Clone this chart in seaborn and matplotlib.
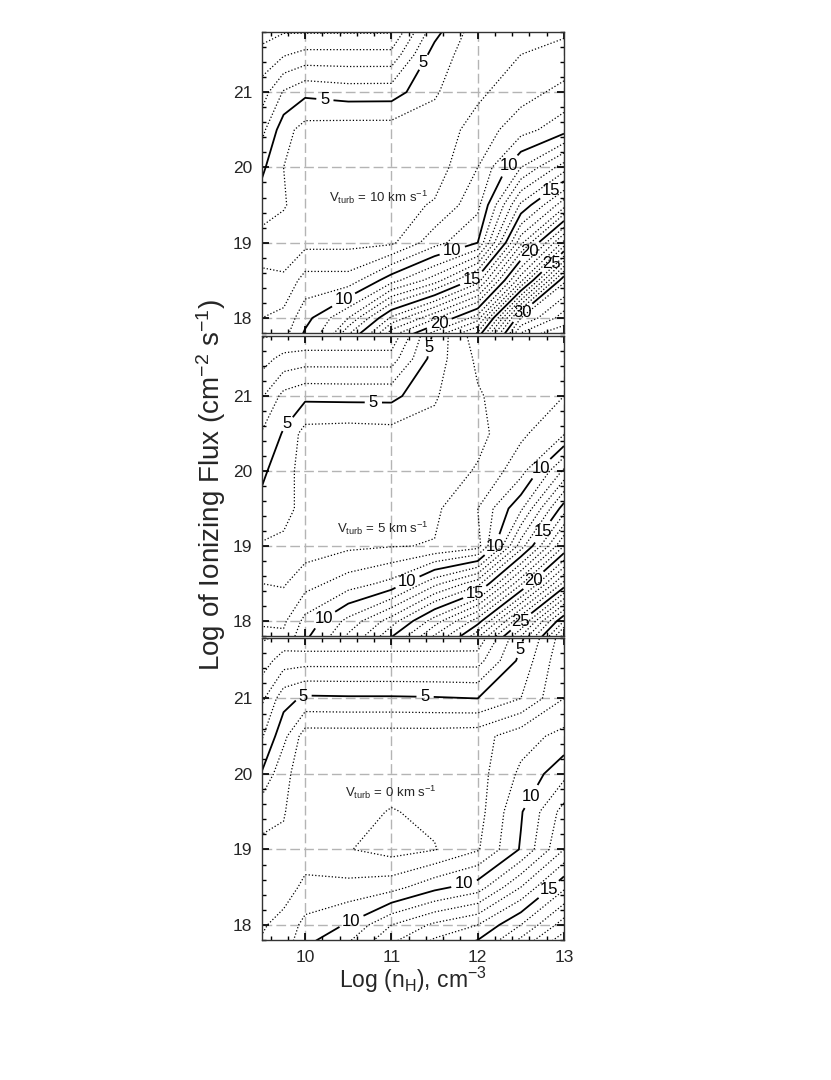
import numpy as np
import matplotlib
matplotlib.use("Agg")
import matplotlib.pyplot as plt
from matplotlib.ticker import MultipleLocator
import seaborn as sns

sns.set_theme(style="ticks")
plt.rcParams["font.family"] = ["Liberation Sans", "DejaVu Sans"]
plt.rcParams["mathtext.fontset"] = "custom"
plt.rcParams["mathtext.rm"] = "Liberation Sans"
plt.rcParams["mathtext.it"] = "Liberation Sans:italic"
plt.rcParams["mathtext.default"] = "regular"

# grid of the models: log n_H (columns) and log flux (rows, top to bottom)
log_nh = [9.5, 9.75, 10.0, 10.5, 11.0, 11.5, 12.0, 12.5, 13.0]
log_flux = [22.0, 21.5, 21.0, 20.5, 20.0, 19.5, 19.0, 18.5, 18.0, 17.5]

# contoured quantity
z_v10 = [
    [0.2, 0.3, 0.0, 0.0, 0.0, 4.0, 6.4, 6.5, 6.6],
    [1.3, 1.9, 2.3, 2.3, 2.3, 5.5, 6.6, 7.0, 7.3],
    [2.5, 4.1, 4.75, 4.5, 4.52, 5.9, 6.8, 7.6, 8.3],
    [3.7, 5.6, 6.4, 6.5, 6.5, 6.4, 7.4, 8.6, 9.6],
    [4.8, 6.0, 6.3, 6.5, 6.5, 6.5, 8.0, 11.0, 13.5],
    [5.5, 5.95, 6.3, 6.5, 6.6, 7.1, 8.7, 14.2, 17.6],
    [6.4, 6.3, 6.7, 6.7, 6.8, 8.6, 10.0, 17.7, 23.3],
    [7.3, 7.2, 8.4, 8.4, 10.6, 12.5, 15.5, 22.7, 30.8],
    [8.0, 8.3, 9.6, 12.0, 16.2, 18.8, 21.5, 31.0, 33.5],
    [8.8, 9.2, 11.0, 16.5, 22.0, 25.0, 28.0, 36.0, 36.0],
]
z_v5 = [
    [0.5, 0.3, 0.2, 0.2, 0.2, 5.0, 8.0, 7.4, 7.5],
    [1.6, 2.3, 2.5, 2.5, 2.5, 5.5, 7.2, 7.5, 7.7],
    [2.9, 4.3, 4.75, 4.7, 4.7, 5.9, 6.9, 7.6, 8.0],
    [4.1, 5.1, 6.4, 6.5, 6.4, 6.3, 6.7, 7.8, 8.9],
    [4.8, 5.6, 6.4, 6.4, 6.4, 6.4, 7.1, 8.6, 12.2],
    [5.3, 5.7, 6.3, 6.4, 6.5, 6.8, 8.0, 10.8, 15.5],
    [6.1, 6.2, 6.5, 6.8, 6.95, 7.05, 7.6, 13.5, 19.0],
    [7.0, 6.9, 7.6, 8.5, 9.3, 11.7, 13.6, 18.8, 24.3],
    [7.9, 7.8, 9.3, 11.3, 13.5, 16.5, 19.5, 24.9, 31.0],
    [8.6, 8.8, 10.5, 13.5, 17.0, 20.5, 25.0, 30.0, 37.0],
]
z_v0 = [
    [0.5, 0.6, 0.2, 0.2, 0.2, 0.2, 0.3, 4.5, 7.3],
    [1.5, 2.5, 2.6, 2.6, 2.6, 2.6, 2.6, 5.3, 7.8],
    [2.8, 4.6, 5.2, 5.15, 5.15, 5.1, 5.0, 6.0, 8.0],
    [3.9, 5.7, 7.5, 7.5, 7.5, 7.5, 7.6, 8.6, 9.3],
    [5.1, 6.8, 7.4, 7.4, 7.4, 7.4, 7.6, 9.2, 10.7],
    [6.7, 6.95, 7.5, 7.3, 6.95, 7.2, 7.6, 9.9, 12.4],
    [7.2, 7.15, 7.6, 7.05, 6.6, 6.95, 7.9, 10.1, 13.0],
    [7.5, 7.6, 8.2, 8.3, 8.6, 9.7, 10.5, 13.0, 15.8],
    [7.9, 8.3, 9.3, 10.1, 12.0, 13.2, 14.0, 16.0, 18.5],
    [8.3, 8.8, 10.5, 12.0, 14.0, 15.5, 16.5, 19.0, 21.0],
]

vturb = [10, 5, 0]
panels = [z_v10, z_v5, z_v0]

# where the original put its contour labels
label_spots = [
    [(10.23, 20.92), (11.46, 21.34), (12.31, 20.08), (11.72, 18.84), (10.44, 18.25),
     (12.83, 19.72), (11.94, 18.5), (12.64, 18.84), (11.57, 17.88), (12.87, 18.71),
     (12.49, 18.11)],
    [(9.78, 20.64), (10.79, 20.85), (11.54, 21.62), (12.72, 20.05), (12.2, 18.99),
     (11.17, 18.56), (10.32, 17.84), (12.73, 19.21), (11.98, 18.35), (12.64, 18.55),
     (12.5, 17.99)],
    [(9.98, 21.02), (11.39, 21.02), (12.5, 21.64), (12.62, 19.7), (11.85, 18.51),
     (10.54, 18.04), (12.81, 18.49)],
]
text_spots = [(10.28, 19.6), (10.37, 19.23), (10.46, 19.75)]

levels = np.arange(1, 46)
major = levels[levels % 5 == 0]
minor = levels[levels % 5 != 0]

fig = plt.figure(figsize=(8.31, 10.8), dpi=100)
boxes = [[0.3153, 0.6917, 0.3634, 0.2787],
         [0.3153, 0.4111, 0.3634, 0.2778],
         [0.3153, 0.1296, 0.3634, 0.2796]]

y_up = np.array(log_flux)[::-1]
for i, z in enumerate(panels):
    ax = fig.add_axes(boxes[i])
    Z = np.array(z)[::-1]
    ax.set_xlim(9.5, 13)
    ax.set_ylim(17.8, 21.8)
    ax.set_axisbelow(True)
    ax.grid(True, which="major", color="#b4b4b4", linestyle=(0, (7, 3)), linewidth=1.0)

    ax.contour(log_nh, y_up, Z, levels=minor, colors="black",
               linewidths=0.9, linestyles=":")
    cs = ax.contour(log_nh, y_up, Z, levels=major, colors="black",
                    linewidths=1.3, linestyles="-")
    labels = ax.clabel(cs, fmt="%d", fontsize=12, inline=True, inline_spacing=4,
                       manual=label_spots[i])
    for t in labels:
        t.set_rotation(0)

    tx, ty = text_spots[i]
    ax.text(tx, ty, r"V$_{\mathrm{turb}}$ = %d km s$^{-1}$" % vturb[i],
            fontsize=9.5, ha="left", va="center")

    ax.xaxis.set_major_locator(MultipleLocator(1))
    ax.xaxis.set_minor_locator(MultipleLocator(0.2))
    ax.yaxis.set_major_locator(MultipleLocator(1))
    ax.yaxis.set_minor_locator(MultipleLocator(0.2))
    ax.tick_params(which="both", direction="in", top=True, right=True,
                   labelsize=12.5, color="black")
    ax.tick_params(which="major", length=5, pad=7)
    ax.tick_params(which="minor", length=3)
    for sp in ax.spines.values():
        sp.set_color("#333333")
        sp.set_linewidth(1.0)
    if i < 2:
        ax.tick_params(labelbottom=False)
    else:
        ax.set_xlabel(r"Log (n$_{\mathrm{H}}$), cm$^{-3}$", fontsize=16.5, labelpad=0)

fig.text(0.254, 0.551, r"Log of Ionizing Flux (cm$^{-2}$ s$^{-1}$)", rotation=90,
         fontsize=20, ha="center", va="center")

fig.savefig("out.png", dpi=100)
